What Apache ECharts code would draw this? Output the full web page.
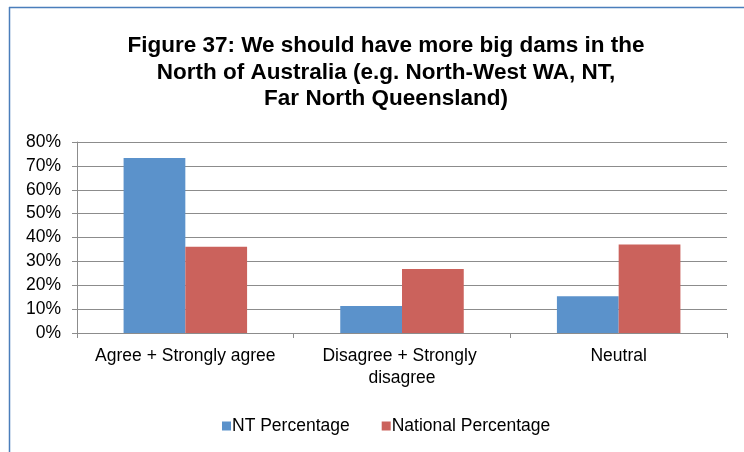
<!DOCTYPE html>
<html>
<head>
<meta charset="utf-8">
<script src="https://cdn.jsdelivr.net/npm/echarts@6/dist/echarts.min.js"></script>
<style>
  html, body { margin: 0; padding: 0; background: #ffffff; }
  #chart { width: 744px; height: 452px; }
</style>
</head>
<body>
<div id="chart"></div>
<script>
// Survey responses: share of respondents per answer group
const categories = ['Agree + Strongly agree', 'Disagree + Strongly disagree', 'Neutral'];
const ntPercentage = [73.3, 11.3, 15.4];
const nationalPercentage = [36.1, 26.8, 37.1];
const seriesNames = ['NT Percentage', 'National Percentage'];
const titleText = 'Figure 37: We should have more big dams in the\nNorth of Australia (e.g. North-West WA, NT,\nFar North Queensland)';

const chart = echarts.init(document.getElementById('chart'), null, { renderer: 'canvas' });
const font = '"Liberation Sans", Arial, sans-serif';

chart.setOption({
  backgroundColor: '#ffffff',
  animation: false,
  graphic: [
    // outer frame (top and left edges)
    { type: 'line', shape: { x1: 9, y1: 7.5, x2: 744, y2: 7.5 }, style: { stroke: '#4a7ebb', lineWidth: 1.5 } },
    { type: 'line', shape: { x1: 9.5, y1: 7, x2: 9.5, y2: 452 }, style: { stroke: '#4a7ebb', lineWidth: 1.5 } }
  ],
  title: {
    text: titleText,
    left: 381,
    textAlign: 'center',
    top: 28,
    textStyle: { fontFamily: font, fontSize: 22.5, fontWeight: 'bold', color: '#000000', lineHeight: 26.5 }
  },
  legend: {
    data: seriesNames,
    top: 417,
    left: 222,
    padding: 0,
    icon: 'rect',
    itemWidth: 9,
    itemHeight: 9,
    itemGap: 32,
    textStyle: { fontFamily: font, fontSize: 17.5, color: '#000000', padding: [0, 0, 0, -4] }
  },
  grid: { left: 77, right: 17, top: 142, bottom: 119, containLabel: false },
  xAxis: {
    type: 'category',
    data: categories,
    axisLine: { lineStyle: { color: '#8c8c8c', width: 1 } },
    axisTick: { show: true, alignWithLabel: false, length: 5, lineStyle: { color: '#8c8c8c' } },
    axisLabel: {
      fontFamily: font, fontSize: 17.5, color: '#000000', margin: 12,
      width: 190, overflow: 'break', lineHeight: 22, interval: 0
    }
  },
  yAxis: {
    type: 'value',
    min: 0, max: 80, interval: 10,
    axisLine: { show: true, lineStyle: { color: '#8c8c8c', width: 1 } },
    axisTick: { show: true, length: 5, lineStyle: { color: '#8c8c8c' } },
    axisLabel: { fontFamily: font, fontSize: 17.5, color: '#000000', margin: 16, formatter: '{value}%' },
    splitLine: { show: true, lineStyle: { color: '#8c8c8c', width: 1 } }
  },
  series: [
    {
      name: seriesNames[0],
      type: 'bar',
      data: ntPercentage,
      barGap: '0%',
      barCategoryGap: '43%',
      itemStyle: { color: '#5b92cb' }
    },
    {
      name: seriesNames[1],
      type: 'bar',
      data: nationalPercentage,
      itemStyle: { color: '#cb625c' }
    }
  ]
});
</script>
</body>
</html>
